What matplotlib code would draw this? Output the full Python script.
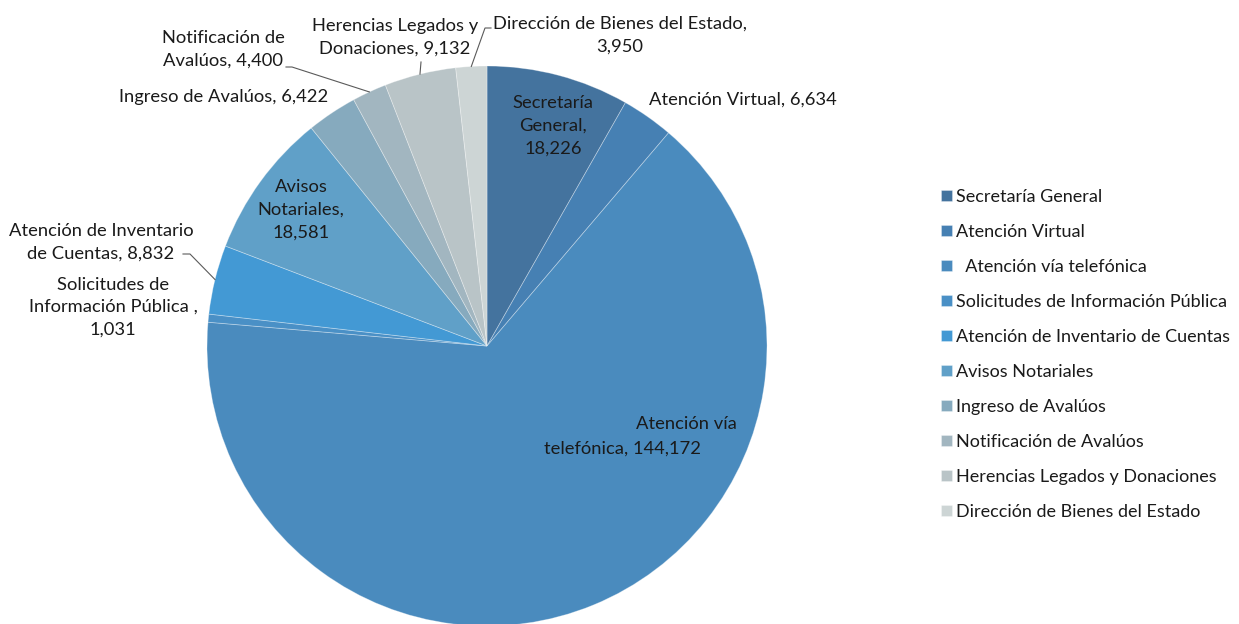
import numpy as np
import matplotlib.pyplot as plt

# data
categories = [
    'Secretaría General',
    'Atención Virtual',
    '  Atención vía telefónica',
    'Solicitudes de Información Pública',
    'Atención de Inventario de Cuentas',
    'Avisos Notariales',
    'Ingreso de Avalúos',
    'Notificación de Avalúos',
    'Herencias Legados y Donaciones',
    'Dirección de Bienes del Estado',
]
values = [18226, 6634, 144172, 1031, 8832, 18581, 6422, 4400, 9132, 3950]
colors = ['#44739e', '#4680b3', '#4a8bbe', '#4a90c6', '#4399d4',
          '#60a0c8', '#86aabe', '#a2b6c0', '#b9c4c7', '#cdd5d5']

W, H = 1239, 624


def px(x, y):
    # pixel coords (top-left origin) -> data coords
    return x, H - y


plt.rcParams['font.family'] = ['Lato', 'DejaVu Sans']
fig = plt.figure(figsize=(W / 100, H / 100), dpi=100)
ax = fig.add_axes([0, 0, 1, 1])

cx, cy = px(487, 346)
radius = 280
wedges, _ = ax.pie(values, colors=colors, startangle=90, counterclock=False,
                   center=(cx, cy), radius=radius, frame=True,
                   wedgeprops=dict(linewidth=0.6, edgecolor=(1, 1, 1, 0.35)))
ax.set_xlim(0, W)
ax.set_ylim(0, H)
ax.set_aspect('equal')
ax.axis('off')

fs = 13.2
tc = '#1a1a1a'


def label(x, y, s):
    ax.text(*px(x, y), s, ha='center', va='center', fontsize=fs, color=tc,
            linespacing=1.5)


def fmt(v):
    return f'{v:,}'


label(553, 126, f'Secretaría\nGeneral,\n{fmt(values[0])}')
label(743, 100, f'Atención Virtual, {fmt(values[1])}')
label(686, 424, 'Atención vía')
label(623, 449, f'telefónica, {fmt(values[2])}')
label(113, 307, f'Solicitudes de\nInformación Pública ,\n{fmt(values[3])}')
label(101, 242, f'Atención de Inventario\nde Cuentas, {fmt(values[4])}')
label(301, 210, f'Avisos\nNotariales,\n{fmt(values[5])}')
label(224, 97, f'Ingreso de Avalúos, {fmt(values[6])}')
label(223, 49, f'Notificación de\nAvalúos, {fmt(values[7])}')
label(395, 37, f'Herencias Legados y\nDonaciones, {fmt(values[8])}')
label(620, 35, f'Dirección de Bienes del Estado,\n{fmt(values[9])}')


def edge_point(i):
    w = wedges[i]
    mid = np.deg2rad((w.theta1 + w.theta2) / 2)
    return cx + radius * np.cos(mid), cy + radius * np.sin(mid)


# leader lines: from wedge edge to the text elbow
leaders = {
    4: [(190, 254), (183, 254)],
    7: [(292, 67), (286, 67)],
    8: [(421, 62)],
    9: [(485, 28), (491, 28)],
}
for i, pts in leaders.items():
    ex, ey = edge_point(i)
    xs = [ex] + [px(*p)[0] for p in pts]
    ys = [ey] + [px(*p)[1] for p in pts]
    ax.plot(xs, ys, color='#5a5a5a', lw=0.8)

ax.legend(wedges, categories, loc='upper left',
          bbox_to_anchor=(932 / W, 1 - 180 / H), frameon=False,
          fontsize=13, handlelength=0.6, handleheight=0.6,
          handletextpad=0.25, labelspacing=1.05, borderpad=0,
          labelcolor=tc)

fig.savefig('out.png', dpi=100)
